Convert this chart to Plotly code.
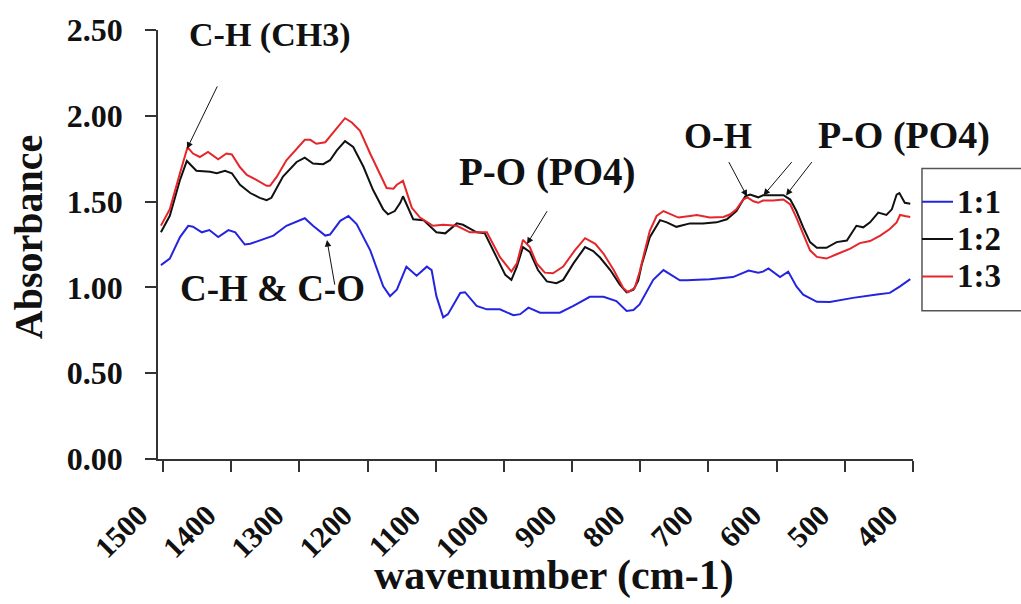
import plotly.graph_objects as go

# Absorbance spectra (wavenumber in cm-1, absorbance) for the three ratios
series_names = ["1:1", "1:2", "1:3"]
series_colors = ["#2424e0", "#111111", "#e5262a"]

wn_11 = [1503, 1490, 1475, 1463, 1456, 1443, 1432, 1419, 1404, 1394, 1380, 1372, 1338, 1319,
         1292, 1280, 1262, 1255, 1240, 1228, 1216, 1196, 1177, 1167, 1157, 1143, 1128, 1113,
         1106, 1099, 1089, 1082, 1064, 1057, 1040, 1025, 1006, 986, 976, 964, 947, 918, 898,
         874, 854, 835, 820, 810, 801, 781, 766, 742, 732, 698, 664, 641, 627, 620, 612, 605,
         595, 583, 571, 561, 541, 522, 488, 453, 434, 419, 404]
ab_11 = [1.13, 1.168, 1.293, 1.359, 1.354, 1.321, 1.334, 1.293, 1.334, 1.321, 1.25, 1.254, 1.302,
         1.359, 1.403, 1.359, 1.302, 1.308, 1.388, 1.416, 1.369, 1.216, 1.006, 0.949, 0.987,
         1.121, 1.068, 1.121, 1.101, 0.949, 0.825, 0.844, 0.968, 0.972, 0.892, 0.872, 0.872,
         0.838, 0.844, 0.882, 0.853, 0.853, 0.892, 0.945, 0.945, 0.92, 0.863, 0.868, 0.901,
         1.044, 1.101, 1.041, 1.041, 1.048, 1.06, 1.098, 1.086, 1.092, 1.111, 1.092, 1.06,
         1.092, 1.006, 0.958, 0.916, 0.915, 0.939, 0.958, 0.968, 1.006, 1.048]

wn_12 = [1503, 1490, 1475, 1465, 1451, 1431, 1421, 1409, 1399, 1387, 1372, 1358, 1348, 1341,
         1324, 1304, 1292, 1280, 1265, 1255, 1245, 1233, 1221, 1206, 1192, 1177, 1170, 1160,
         1152, 1148, 1133, 1118, 1099, 1086, 1069, 1060, 1040, 1028, 1011, 998, 989, 981, 972,
         962, 950, 937, 923, 913, 898, 881, 869, 859, 844, 830, 820, 810, 803, 798, 786, 771,
         761, 747, 727, 708, 688, 673, 659, 646, 639, 627, 620, 590, 580, 571, 561, 551, 541,
         527, 512, 497, 483, 473, 463, 451, 439, 431, 424, 420, 412, 404]
ab_12 = [1.321, 1.417, 1.627, 1.737, 1.68, 1.674, 1.665, 1.68, 1.665, 1.598, 1.55, 1.522, 1.508,
         1.522, 1.646, 1.731, 1.756, 1.722, 1.718, 1.741, 1.798, 1.852, 1.818, 1.703, 1.569,
         1.455, 1.426, 1.445, 1.493, 1.531, 1.397, 1.392, 1.321, 1.315, 1.373, 1.365, 1.321,
         1.315, 1.178, 1.073, 1.044, 1.121, 1.235, 1.207, 1.101, 1.035, 1.025, 1.044, 1.14,
         1.235, 1.212, 1.174, 1.101, 1.016, 0.972, 0.987, 1.04, 1.13, 1.293, 1.392, 1.379,
         1.353, 1.373, 1.373, 1.379, 1.397, 1.445, 1.531, 1.541, 1.525, 1.537, 1.537, 1.512,
         1.445, 1.35, 1.264, 1.231, 1.231, 1.264, 1.273, 1.359, 1.35, 1.379, 1.436, 1.422,
         1.455, 1.541, 1.55, 1.493, 1.487]

wn_13 = [1503, 1490, 1475, 1464, 1456, 1446, 1434, 1424, 1419, 1407, 1399, 1387, 1377, 1363,
         1348, 1343, 1333, 1319, 1304, 1292, 1284, 1275, 1262, 1245, 1233, 1223, 1211, 1196,
         1182, 1172, 1162, 1157, 1148, 1143, 1135, 1123, 1104, 1089, 1069, 1050, 1025, 1006,
         989, 981, 972, 962, 952, 940, 928, 913, 896, 881, 866, 854, 839, 825, 818, 808, 801,
         786, 776, 766, 756, 744, 727, 717, 698, 678, 668, 659, 649, 643, 634, 627, 620, 605,
         590, 580, 571, 561, 551, 541, 527, 512, 492, 478, 463, 448, 434, 424, 419, 412, 404]
ab_13 = [1.36, 1.455, 1.667, 1.817, 1.78, 1.76, 1.79, 1.76, 1.747, 1.78, 1.775, 1.70, 1.655,
         1.627, 1.592, 1.592, 1.645, 1.741, 1.808, 1.86, 1.86, 1.837, 1.846, 1.932, 1.986,
         1.961, 1.913, 1.779, 1.665, 1.579, 1.575, 1.598, 1.621, 1.56, 1.464, 1.407, 1.359,
         1.365, 1.359, 1.321, 1.321, 1.178, 1.092, 1.14, 1.277, 1.235, 1.14, 1.086, 1.082,
         1.121, 1.216, 1.287, 1.254, 1.197, 1.101, 0.997, 0.972, 0.997, 1.09, 1.33, 1.416,
         1.445, 1.426, 1.407, 1.416, 1.422, 1.407, 1.41, 1.426, 1.455, 1.512, 1.525, 1.502,
         1.493, 1.506, 1.506, 1.512, 1.483, 1.407, 1.312, 1.216, 1.178, 1.168, 1.193, 1.226,
         1.258, 1.27, 1.302, 1.34, 1.379, 1.422, 1.416, 1.41]

x_ticks = [1500, 1400, 1300, 1200, 1100, 1000, 900, 800, 700, 600, 500, 400]
y_ticks = [0.0, 0.5, 1.0, 1.5, 2.0, 2.5]

FONT = "Liberation Serif"
INK = "#111111"

fig = go.Figure()
for name, color, wn, ab in zip(series_names, series_colors,
                               [wn_11, wn_12, wn_13], [ab_11, ab_12, ab_13]):
    fig.add_trace(go.Scatter(x=wn, y=ab, mode="lines", name=name,
                             line=dict(color=color, width=2), showlegend=False))

axis_common = dict(showgrid=False, zeroline=False, showline=True, linecolor="#333333",
                   linewidth=1.5, ticks="outside", ticklen=11, tickwidth=1.5,
                   tickcolor="#333333")

fig.update_xaxes(range=[1507.3, 400], tickvals=x_ticks, ticktext=[str(v) for v in x_ticks],
                 tickangle=-45, ticklabelstandoff=14, ticklabelshift=24,
                 tickfont=dict(family=FONT, size=30, color=INK, weight="bold"),
                 **axis_common)
fig.update_yaxes(range=[0, 2.5], tickvals=y_ticks, tickformat=".2f", ticklabelstandoff=16,
                 tickfont=dict(family=FONT, size=32, color=INK, weight="bold"), **axis_common)

annotations = []

def label(text, x, y, size, xref="x", yref="y", angle=0):
    annotations.append(dict(text=text, x=x, y=y, xref=xref, yref=yref, showarrow=False,
                            xanchor="center", yanchor="middle", textangle=angle,
                            font=dict(family=FONT, size=size, color=INK, weight="bold")))

def arrow(tip, tail):
    annotations.append(dict(text="", x=tip[0], y=tip[1], ax=tail[0], ay=tail[1],
                            xref="x", yref="y", axref="x", ayref="y", showarrow=True,
                            arrowhead=2, arrowsize=1.3, arrowwidth=1, arrowcolor=INK))

# peak assignments
label("C-H (CH3)", 1344.5, 2.47, 34)
arrow((1464.8, 1.808), (1419.3, 2.180))
label("C-H &amp; C-O", 1339.4, 0.995, 37)
arrow((1259.5, 1.276), (1247.7, 1.007))
label("P-O (PO4)", 936, 1.675, 39)
arrow((966.1, 1.253), (935.3, 1.453))
label("O-H", 686, 1.885, 36)
label("P-O (PO4)", 413.9, 1.885, 38)
arrow((643.4, 1.530), (671.3, 1.739))
arrow((619.3, 1.536), (576.0, 1.739))
arrow((586.2, 1.536), (546.7, 1.739))

# axis titles
label("Absorbance", -0.1722, 0.517, 40, xref="paper", yref="paper", angle=-90)
label("wavenumber (cm-1)", 0.5245, -0.272, 42, xref="paper", yref="paper")

# legend box with line samples
shapes = [dict(type="rect", xref="paper", yref="paper", x0=1.0119, x1=1.16, y0=0.3455,
               y1=0.6773, line=dict(color="#555555", width=1.5), fillcolor="white")]
legend_y = [0.5995, 0.5126, 0.4256]
for name, color, ly in zip(series_names, series_colors, legend_y):
    shapes.append(dict(type="line", xref="paper", yref="paper", x0=1.0119, x1=1.053,
                       y0=ly, y1=ly, line=dict(color=color, width=2)))
    annotations.append(dict(text=name, x=1.055, y=ly, xref="paper", yref="paper",
                            showarrow=False, xanchor="left", yanchor="middle",
                            font=dict(family=FONT, size=33, color=INK, weight="bold")))

fig.update_layout(width=1021, height=604, margin=dict(l=158, r=108, t=22, b=145),
                  paper_bgcolor="white", plot_bgcolor="white",
                  annotations=annotations, shapes=shapes)

fig.write_html("out.html")
